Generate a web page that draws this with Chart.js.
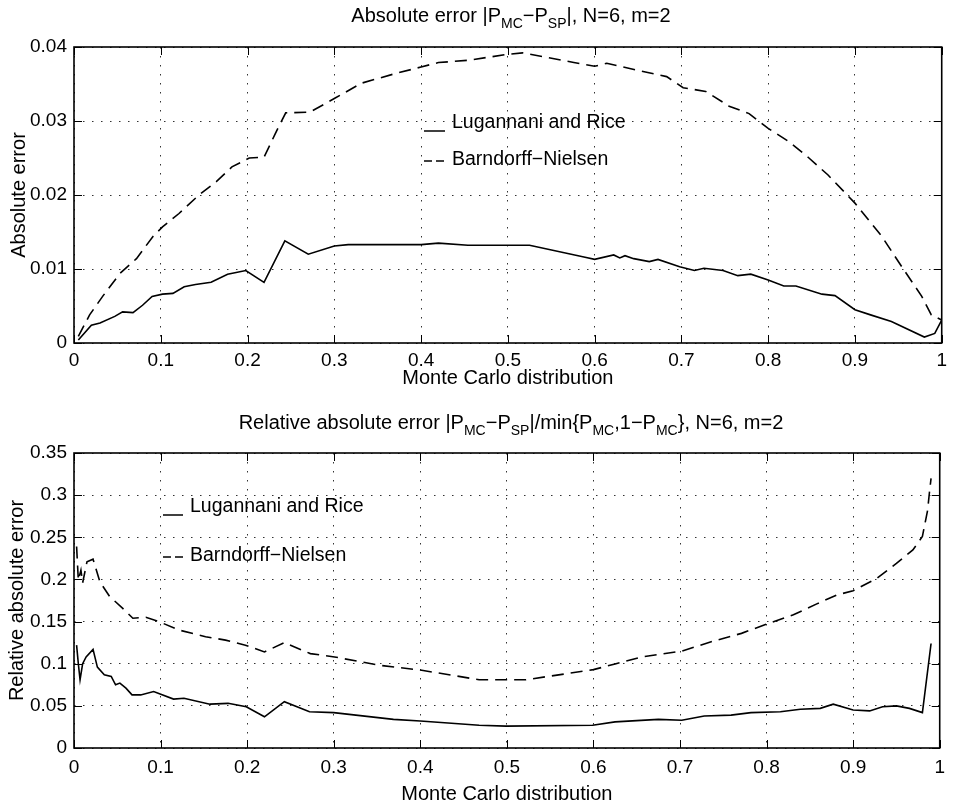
<!DOCTYPE html>
<html>
<head>
<meta charset="utf-8">
<script src="https://cdn.jsdelivr.net/npm/chart.js@4.4.1/dist/chart.umd.min.js"></script>
<style>
body { margin: 0; background: #fff; }
#wrap { position: relative; width: 953px; height: 804px; font-family: "Liberation Sans", Arial, sans-serif; }
canvas { position: absolute; left: 0; }
.title { position: absolute; left: 74px; width: 874px; text-align: center; font-size: 20px; line-height: 22px; color: #000; white-space: nowrap; }
.title sub { font-size: 14px; vertical-align: -6px; line-height: 0; }
</style>
</head>
<body>
<div id="wrap">
  <canvas id="absChart" width="953" height="402" style="top:0"></canvas>
  <canvas id="relChart" width="953" height="402" style="top:402px"></canvas>
  <div class="title" style="top:4px">Absolute error |P<sub>MC</sub>−P<sub>SP</sub>|, N=6, m=2</div>
  <div class="title" style="top:411px">Relative absolute error |P<sub>MC</sub>−P<sub>SP</sub>|/min{P<sub>MC</sub>,1−P<sub>MC</sub>}, N=6, m=2</div>
</div>
<script>
// tick values and labels
const xTicks = [0, 0.1, 0.2, 0.3, 0.4, 0.5, 0.6, 0.7, 0.8, 0.9, 1];
const xTickLabels = ['0', '0.1', '0.2', '0.3', '0.4', '0.5', '0.6', '0.7', '0.8', '0.9', '1'];
const absTicks = [0, 0.01, 0.02, 0.03, 0.04];
const absTickLabels = ['0', '0.01', '0.02', '0.03', '0.04'];
const relTicks = [0, 0.05, 0.1, 0.15, 0.2, 0.25, 0.3, 0.35];
const relTickLabels = ['0', '0.05', '0.1', '0.15', '0.2', '0.25', '0.3', '0.35'];
const seriesNames = ['Lugannani and Rice', 'Barndorff−Nielsen'];

// absolute error, Lugannani and Rice
const absLrX = [0.005, 0.02, 0.03, 0.047, 0.056, 0.068, 0.079, 0.09, 0.102, 0.114, 0.127, 0.14, 0.158, 0.177, 0.198, 0.219, 0.243, 0.27, 0.30, 0.316, 0.40, 0.42, 0.454, 0.525, 0.589, 0.60, 0.622, 0.629, 0.635, 0.645, 0.663, 0.673, 0.698, 0.715, 0.726, 0.748, 0.765, 0.78, 0.80, 0.818, 0.832, 0.862, 0.877, 0.90, 0.918, 0.942, 0.98, 0.992, 1.0];
const absLrY = [0.0004, 0.0024, 0.0027, 0.0036, 0.0042, 0.0041, 0.0051, 0.0063, 0.0066, 0.0067, 0.0076, 0.0079, 0.0082, 0.0093, 0.0098, 0.0082, 0.0138, 0.0120, 0.0131, 0.0133, 0.0133, 0.0135, 0.0132, 0.0132, 0.0116, 0.0113, 0.0119, 0.0115, 0.0118, 0.0114, 0.0110, 0.0113, 0.0103, 0.0098, 0.0101, 0.0098, 0.0091, 0.0093, 0.0085, 0.0077, 0.0077, 0.0066, 0.0064, 0.0045, 0.0038, 0.0029, 0.0008, 0.0013, 0.0031];

// absolute error, Barndorff-Nielsen
const absBnX = [0.005, 0.018, 0.033, 0.053, 0.072, 0.091, 0.102, 0.121, 0.144, 0.164, 0.182, 0.202, 0.219, 0.232, 0.244, 0.272, 0.301, 0.331, 0.37, 0.40, 0.42, 0.454, 0.499, 0.517, 0.545, 0.576, 0.60, 0.614, 0.629, 0.648, 0.683, 0.702, 0.728, 0.755, 0.778, 0.80, 0.824, 0.847, 0.869, 0.90, 0.931, 0.954, 0.977, 0.988, 1.0];
const absBnY = [0.0009, 0.0038, 0.0063, 0.0094, 0.0114, 0.0144, 0.0157, 0.0175, 0.0200, 0.0218, 0.0238, 0.0250, 0.0251, 0.0283, 0.0311, 0.0312, 0.0331, 0.0351, 0.0364, 0.0373, 0.0379, 0.0382, 0.0390, 0.0392, 0.0386, 0.0379, 0.0374, 0.0378, 0.0374, 0.0369, 0.0360, 0.0345, 0.0340, 0.0320, 0.0310, 0.0290, 0.0272, 0.0250, 0.0227, 0.0189, 0.0144, 0.0103, 0.0063, 0.0038, 0.0031];

// relative absolute error, Lugannani and Rice
const relLrX = [0.003, 0.005, 0.007, 0.01, 0.014, 0.022, 0.027, 0.035, 0.043, 0.048, 0.053, 0.06, 0.067, 0.077, 0.092, 0.115, 0.127, 0.157, 0.178, 0.199, 0.22, 0.243, 0.272, 0.30, 0.369, 0.40, 0.468, 0.499, 0.599, 0.625, 0.675, 0.702, 0.728, 0.759, 0.782, 0.816, 0.839, 0.862, 0.877, 0.90, 0.919, 0.934, 0.95, 0.965, 0.98, 0.99];
const relLrY = [0.122, 0.10, 0.081, 0.10, 0.108, 0.117, 0.096, 0.087, 0.085, 0.075, 0.077, 0.071, 0.063, 0.063, 0.067, 0.058, 0.059, 0.052, 0.053, 0.049, 0.037, 0.055, 0.043, 0.042, 0.034, 0.032, 0.027, 0.026, 0.027, 0.031, 0.034, 0.033, 0.038, 0.039, 0.042, 0.043, 0.046, 0.047, 0.052, 0.045, 0.044, 0.049, 0.050, 0.047, 0.042, 0.124];

// relative absolute error, Barndorff-Nielsen
const relBnX = [0.003, 0.005, 0.008, 0.01, 0.015, 0.022, 0.03, 0.041, 0.056, 0.068, 0.083, 0.098, 0.121, 0.152, 0.175, 0.198, 0.22, 0.243, 0.273, 0.301, 0.354, 0.40, 0.468, 0.522, 0.568, 0.60, 0.625, 0.656, 0.702, 0.736, 0.771, 0.80, 0.831, 0.858, 0.881, 0.90, 0.927, 0.95, 0.969, 0.98, 0.986, 0.988, 0.99];
const relBnY = [0.239, 0.199, 0.211, 0.196, 0.221, 0.224, 0.197, 0.18, 0.166, 0.154, 0.155, 0.150, 0.14, 0.132, 0.128, 0.122, 0.114, 0.125, 0.112, 0.108, 0.098, 0.0925, 0.081, 0.081, 0.088, 0.093, 0.0997, 0.108, 0.115, 0.126, 0.136, 0.147, 0.158, 0.171, 0.1815, 0.1866, 0.201, 0.219, 0.235, 0.251, 0.282, 0.302, 0.32];

Chart.defaults.font.family = '"Liberation Sans", Arial, sans-serif';
Chart.defaults.font.size = 19;
Chart.defaults.color = '#000';

function toPoints(xs, ys) {
    return xs.map((x, i) => ({ x: x, y: ys[i] }));
}

// draws the solid box, inward tick marks and the in-plot legend
const framePlugin = {
    id: 'frame',
    afterDatasetsDraw(chart, args, opts) {
        const { ctx, chartArea: a, scales } = chart;
        ctx.save();
        ctx.setLineDash([]);
        ctx.strokeStyle = '#000';
        ctx.lineWidth = 1;
        ctx.beginPath();
        scales.x.ticks.forEach(t => {
            const px = Math.round(scales.x.getPixelForValue(t.value)) + 0.5;
            ctx.moveTo(px, a.bottom); ctx.lineTo(px, a.bottom - 8);
            ctx.moveTo(px, a.top); ctx.lineTo(px, a.top + 8);
        });
        scales.y.ticks.forEach(t => {
            const py = Math.round(scales.y.getPixelForValue(t.value)) + 0.5;
            ctx.moveTo(a.left, py); ctx.lineTo(a.left + 8, py);
            ctx.moveTo(a.right, py); ctx.lineTo(a.right - 8, py);
        });
        ctx.stroke();
        ctx.lineWidth = 1.6;
        ctx.strokeRect(a.left, a.top, a.right - a.left, a.bottom - a.top);

        // legend
        const lg = opts.legend;
        ctx.font = '19.5px "Liberation Sans", Arial, sans-serif';
        ctx.fillStyle = '#000';
        ctx.textBaseline = 'middle';
        ctx.textAlign = 'left';
        chart.data.datasets.forEach((ds, i) => {
            const row = lg.rows[i];
            ctx.lineWidth = 1.5;
            ctx.setLineDash(ds.borderDash ? [8, 4] : []);
            ctx.beginPath();
            ctx.moveTo(a.left + lg.sampleX, a.top + row.sampleY);
            ctx.lineTo(a.left + lg.sampleX + lg.sampleW, a.top + row.sampleY);
            ctx.stroke();
            ctx.setLineDash([]);
            ctx.fillText(ds.label, a.left + lg.textX, a.top + row.textY);
        });
        ctx.restore();
    }
};

function makeChart(id, cfg) {
    const yTickLabels = cfg.yLabels;
    return new Chart(document.getElementById(id), {
        type: 'line',
        data: {
            datasets: [
                { label: seriesNames[0], data: cfg.lr, borderColor: '#000', borderWidth: 1.6, pointRadius: 0, tension: 0, fill: false },
                { label: seriesNames[1], data: cfg.bn, borderColor: '#000', borderWidth: 1.6, borderDash: [12, 7], pointRadius: 0, tension: 0, fill: false }
            ]
        },
        options: {
            responsive: false,
            animation: false,
            events: [],
            layout: { padding: { top: cfg.padTop, right: 5, left: 0, bottom: 0 } },
            plugins: {
                legend: { display: false },
                tooltip: { enabled: false },
                frame: { legend: cfg.legend }
            },
            scales: {
                x: {
                    type: 'linear',
                    min: 0,
                    max: 1,
                    afterBuildTicks: s => { s.ticks = xTicks.map(v => ({ value: v })); },
                    afterFit: s => { s.height = cfg.xAxisH; },
                    ticks: { autoSkip: false, maxRotation: 0, padding: cfg.xTickPad, callback: (v, i) => xTickLabels[i] },
                    grid: { color: '#333', lineWidth: 1, drawTicks: false },
                    border: { display: false, dash: [1.5, 7.5] },
                    title: { display: true, text: 'Monte Carlo distribution', font: { size: 20, lineHeight: 1 }, padding: { top: 0, bottom: cfg.xTitlePad } }
                },
                y: {
                    type: 'linear',
                    min: cfg.yTicks[0],
                    max: cfg.yTicks[cfg.yTicks.length - 1],
                    afterBuildTicks: s => { s.ticks = cfg.yTicks.map(v => ({ value: v })); },
                    afterFit: s => { s.width = 74; },
                    ticks: { autoSkip: false, padding: 7, callback: (v, i) => yTickLabels[i] },
                    grid: { color: '#333', lineWidth: 1, drawTicks: false },
                    border: { display: false, dash: [1.5, 7.5] },
                    title: { display: true, text: cfg.yTitle, font: { size: 20, lineHeight: 1 }, padding: { top: cfg.yTitlePad, bottom: 0 } }
                }
            }
        },
        plugins: [framePlugin]
    });
}

makeChart('absChart', {
    lr: toPoints(absLrX, absLrY),
    bn: toPoints(absBnX, absBnY),
    yTicks: absTicks,
    yLabels: absTickLabels,
    yTitle: 'Absolute error',
    padTop: 47,
    xAxisH: 59,
    xTickPad: 6,
    xTitlePad: 14,
    yTitlePad: 9,
    legend: { sampleX: 350, sampleW: 21, textX: 378, rows: [{ sampleY: 84, textY: 76 }, { sampleY: 114, textY: 113 }] }
});

makeChart('relChart', {
    lr: toPoints(relLrX, relLrY),
    bn: toPoints(relBnX, relBnY),
    yTicks: relTicks,
    yLabels: relTickLabels,
    yTitle: 'Relative absolute error',
    padTop: 51,
    xAxisH: 56,
    xTickPad: 8,
    xTitlePad: 0,
    yTitlePad: 7,
    legend: { sampleX: 89, sampleW: 20, textX: 116, rows: [{ sampleY: 62, textY: 54 }, { sampleY: 104, textY: 103 }] }
});
</script>
</body>
</html>
